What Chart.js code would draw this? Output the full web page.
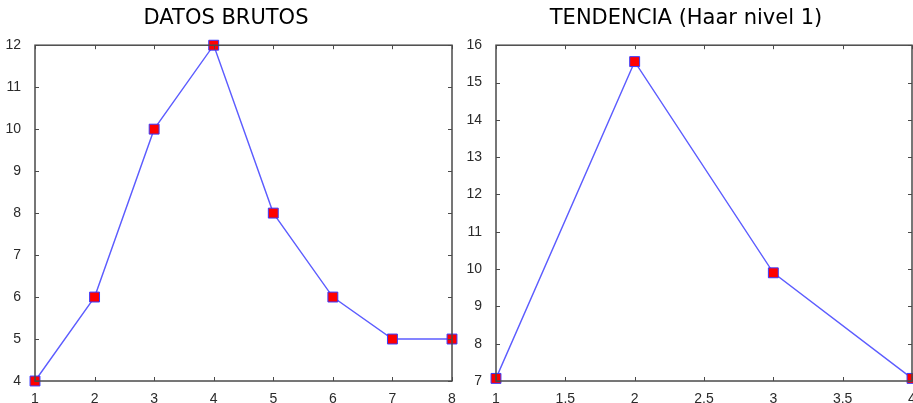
<!DOCTYPE html>
<html>
<head>
<meta charset="utf-8">
<script src="https://cdn.jsdelivr.net/npm/chart.js@4/dist/chart.umd.min.js"></script>
<style>
  body { margin: 0; background: #fff; }
  #wrap { position: relative; width: 913px; height: 403px; overflow: hidden; }
  canvas { position: absolute; top: 0; }
</style>
</head>
<body>
<div id="wrap">
  <canvas id="rawChart" width="462" height="403" style="left:0;width:462px;height:403px"></canvas>
  <canvas id="trendChart" width="484" height="403" style="left:460px;width:484px;height:403px"></canvas>
</div>
<script>
// raw samples
const rawX = [1, 2, 3, 4, 5, 6, 7, 8];
const rawY = [4, 6, 10, 12, 8, 6, 5, 5];

// Haar level 1 approximation
const trendX = [1, 2, 3, 4];
const trendY = [7.07, 15.56, 9.90, 7.07];

const rawTitle = 'DATOS BRUTOS';
const trendTitle = 'TENDENCIA (Haar nivel 1)';

const tickFont = { family: 'Liberation Sans', size: 14 };

// frame around the plot + inward tick marks on all four sides
const boxPlugin = {
    id: 'box',
    afterDraw(chart) {
        const { ctx, chartArea: a, scales } = chart;
        ctx.save();
        ctx.strokeStyle = '#4a4a4a';
        ctx.lineWidth = 1.5;
        ctx.strokeRect(a.left, a.top, a.right - a.left, a.bottom - a.top);
        ctx.lineWidth = 1;
        const len = 4;
        ctx.beginPath();
        scales.x.ticks.forEach(t => {
            const px = Math.round(scales.x.getPixelForValue(t.value)) + 0.5;
            ctx.moveTo(px, a.bottom); ctx.lineTo(px, a.bottom - len);
            ctx.moveTo(px, a.top); ctx.lineTo(px, a.top + len);
        });
        scales.y.ticks.forEach(t => {
            const py = Math.round(scales.y.getPixelForValue(t.value)) + 0.5;
            ctx.moveTo(a.left, py); ctx.lineTo(a.left + len, py);
            ctx.moveTo(a.right, py); ctx.lineTo(a.right - len, py);
        });
        ctx.stroke();
        ctx.restore();
    }
};

function axis(min, max, step, pad, fit) {
    return {
        type: 'linear',
        min: min,
        max: max,
        grid: { display: false },
        border: { display: false },
        ticks: {
            stepSize: step,
            color: '#2a2a2a',
            padding: pad,
            maxRotation: 0,
            font: tickFont,
            callback: v => String(Number(v.toFixed(2)))
        },
        afterFit(s) {
            fit(s);
            s.paddingLeft = 0; s.paddingRight = 0;
            s.paddingTop = 0; s.paddingBottom = 0;
        }
    };
}

function makeChart(id, xs, ys, title, xScale, yScale, padRight) {
    const points = xs.map((x, i) => ({ x: x, y: ys[i] }));
    return new Chart(document.getElementById(id), {
        type: 'line',
        data: {
            datasets: [{
                data: points,
                borderColor: '#5c5cff',
                borderWidth: 1.4,
                pointStyle: 'rect',
                pointRadius: 7,
                pointHoverRadius: 7,
                pointBackgroundColor: '#ff0000',
                pointBorderColor: '#3a3aff',
                pointBorderWidth: 1,
                tension: 0,
                clip: false
            }]
        },
        options: {
            responsive: false,
            animation: false,
            events: [],
            layout: { padding: { top: 0, right: padRight, bottom: 0, left: 0 } },
            plugins: {
                legend: { display: false },
                tooltip: { enabled: false },
                title: {
                    display: true,
                    text: title,
                    color: '#000',
                    font: { family: 'DejaVu Sans', size: 21, weight: 'normal' },
                    padding: { top: 6, bottom: 14 }
                }
            },
            scales: { x: xScale, y: yScale }
        },
        plugins: [boxPlugin]
    });
}

makeChart('rawChart', rawX, rawY, rawTitle,
    axis(1, 8, 1, 2, s => { s.height = 22; }),
    axis(4, 12, 1, 6, s => { s.width = 35; }),
    10);

makeChart('trendChart', trendX, trendY, trendTitle,
    axis(1, 4, 0.5, 2, s => { s.height = 22; }),
    axis(7, 16, 1, 6, s => { s.width = 36; }),
    32);
</script>
</body>
</html>
